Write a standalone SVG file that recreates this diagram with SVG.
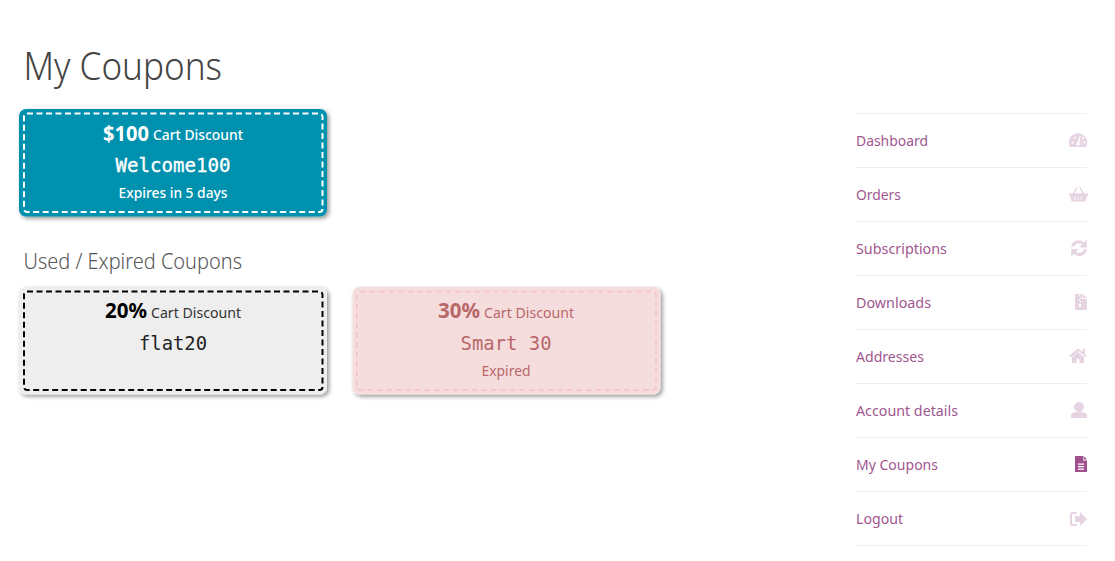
<svg xmlns="http://www.w3.org/2000/svg" width="1115" height="561" viewBox="0 0 1115 561">
<defs>
<filter id="sh" x="-5%" y="-10%" width="112%" height="125%"><feDropShadow dx="2" dy="2" stdDeviation="2" flood-color="#000" flood-opacity="0.42"/></filter>
</defs>
<style>
text{font-family:"Noto Sans","Open Sans","Liberation Sans",sans-serif}
.h{font-weight:300;fill:#444}
.b{font-weight:700;font-size:21px}
.s{font-size:14.5px}
.m{font-family:"DejaVu Sans Mono","Liberation Mono",monospace;font-size:20px}
.e{font-size:14.5px}
.n{font-size:15px;fill:#a0578f}
.l{stroke:#eeeeee;stroke-width:1}
.d{fill:none;stroke-width:2;stroke-dasharray:6 3.5}
.i{fill:#a46497;opacity:.28}
</style>
<rect width="1115" height="561" fill="#fff"/>
<text class="h" x="23.500" y="80" font-size="38" textLength="198.500" lengthAdjust="spacingAndGlyphs">My Coupons</text>
<text class="h" x="23.500" y="269" font-size="21" textLength="218.500" lengthAdjust="spacingAndGlyphs" style="fill:#555">Used / Expired Coupons</text>

<g id="coupon-welcome100">
<rect x="19" y="109" width="308" height="107.500" rx="7" fill="#0091ae" filter="url(#sh)"/>
<rect x="24" y="113.500" width="298.500" height="98.500" rx="3" class="d" stroke="#fff"/>
<text x="103" y="141" class="b" fill="#fff" textLength="46" lengthAdjust="spacingAndGlyphs">$100</text>
<text x="153" y="140" class="s" fill="#fff" font-weight="500" textLength="90" lengthAdjust="spacingAndGlyphs">Cart Discount</text>
<text x="173" y="172" class="m" fill="#fff" stroke="#fff" stroke-width=".35" text-anchor="middle" textLength="115" lengthAdjust="spacingAndGlyphs">Welcome100</text>
<text x="173" y="198" class="e" fill="#fff" text-anchor="middle" font-weight="500" textLength="109" lengthAdjust="spacingAndGlyphs">Expires in 5 days</text>
</g>

<g id="coupon-flat20">
<rect x="19" y="287" width="308" height="107.500" rx="7" fill="#eeeeee" filter="url(#sh)"/>
<rect x="24" y="291.500" width="298.500" height="98.500" rx="3" class="d" stroke="#000"/>
<text x="105" y="318" class="b" fill="#000" textLength="42" lengthAdjust="spacingAndGlyphs">20%</text>
<text x="151" y="318" class="s" fill="#333" textLength="90" lengthAdjust="spacingAndGlyphs">Cart Discount</text>
<text x="173" y="350" class="m" fill="#222" text-anchor="middle" textLength="68" lengthAdjust="spacingAndGlyphs">flat20</text>
</g>

<g id="coupon-smart30">
<rect x="352.500" y="287" width="308" height="107.500" rx="7" fill="#f6dddd" filter="url(#sh)"/>
<rect x="357" y="291.500" width="299" height="98.500" rx="3" class="d" stroke="#f5c8cb"/>
<text x="438" y="318" class="b" fill="#b9686a" textLength="42" lengthAdjust="spacingAndGlyphs">30%</text>
<text x="484" y="318" class="s" fill="#b9686a" textLength="90" lengthAdjust="spacingAndGlyphs">Cart Discount</text>
<text x="506" y="350" class="m" fill="#b9686a" text-anchor="middle" textLength="91" lengthAdjust="spacingAndGlyphs">Smart 30</text>
<text x="506" y="376" class="e" fill="#b9686a" text-anchor="middle" textLength="49" lengthAdjust="spacingAndGlyphs">Expired</text>
</g>

<g id="nav-lines">
<path class="l" d="M856 113.500H1087M856 167.500H1087M856 221.500H1087M856 275.500H1087M856 329.500H1087M856 383.500H1087M856 437.500H1087M856 491.500H1087M856 545.500H1087"/>
</g>
<g id="nav-dashboard"><text class="n" x="856" y="146" textLength="72" lengthAdjust="spacingAndGlyphs">Dashboard</text>
<path class="i" fill-rule="evenodd" d="M1070 147a9.200 9.200 0 1 1 16 0zM1079.500 136l-1.800 6.500a1.700 1.700 0 1 0 1.500.4l1.500-6.700zM1072.500 141.500a1 1 0 1 0 .1 0zM1075 136.500a1 1 0 1 0 .1 0zM1083 137a1 1 0 1 0 .1 0zM1084.300 141.500a1 1 0 1 0 .1 0z"/></g>
<g id="nav-orders"><text class="n" x="856" y="200" textLength="45" lengthAdjust="spacingAndGlyphs">Orders</text>
<path class="i" fill-rule="evenodd" d="M1069 193.500h4l3.500-6.500 1.200.7-3 5.800h7.600l-3-5.800 1.200-.7 3.500 6.500h4v2h-1l-1.600 6h-13.800l-1.600-6h-1zM1074.400 196.500v3.500h.9v-3.500zM1077.600 196.500v3.500h.9v-3.500zM1080.800 196.500v3.500h.9v-3.500z"/></g>
<g id="nav-subscriptions"><text class="n" x="856" y="254" textLength="91" lengthAdjust="spacingAndGlyphs">Subscriptions</text>
<path class="i" d="M1071 246.500a7.800 7.800 0 0 1 13-4l2.800-2.500v7.500h-7.500l2.700-2.800a5 5 0 0 0-8 1.800zM1087 249a7.800 7.800 0 0 1-13 5l-2.800 2.500V249h7.500l-2.700 2.800a5 5 0 0 0 8-2.800z"/></g>
<g id="nav-downloads"><text class="n" x="856" y="308" textLength="75" lengthAdjust="spacingAndGlyphs">Downloads</text>
<path class="i" fill-rule="evenodd" d="M1075 294h7.500v5h4.500v11h-12zM1083 294l4 4h-4zM1079 295v1.500h1v-1.500zM1080 297v1.500h1v-1.500zM1079 299v1.500h1v-1.500zM1080 301v1.500h1v-1.500zM1079 304v3h2v-3z"/></g>
<g id="nav-addresses"><text class="n" x="856" y="362" textLength="68" lengthAdjust="spacingAndGlyphs">Addresses</text>
<path class="i" fill-rule="evenodd" d="M1069 356l9-7.500 4.500 3.700V349h2.500v5.400l2 1.600-1 1.200-7.500-6.300-7.500 6.300zM1072 357l6-5 6 5v6h-4.500v-4h-3v4H1072z"/></g>
<g id="nav-account"><text class="n" x="856" y="416" textLength="102" lengthAdjust="spacingAndGlyphs">Account details</text>
<path class="i" d="M1079 402a5 5 0 1 1-.1 0zM1071 418v-2.500c0-2.500 3-3.500 8-3.500s8 1 8 3.500v2.500z"/></g>
<g id="nav-coupons"><text class="n" x="856" y="470" textLength="82" lengthAdjust="spacingAndGlyphs">My Coupons</text>
<path fill="#a0508f" fill-rule="evenodd" d="M1075 456h8v4.500h4V472h-12zM1083.500 456l3.500 3.600h-3.500zM1078 463.500v1.300h6v-1.300zM1078 466v1.300h6V466zM1078 468.500v1.300h6v-1.300z"/></g>
<g id="nav-logout"><text class="n" x="856" y="524" textLength="47" lengthAdjust="spacingAndGlyphs">Logout</text>
<path class="i" d="M1072.500 512h4v2h-3.500a1 1 0 0 0-1 1v8a1 1 0 0 0 1 1h3.500v2h-4a2.500 2.500 0 0 1-2.500-2.500v-9a2.500 2.500 0 0 1 2.500-2.500zM1075 516h5v-4l7 7-7 7v-4h-5z"/></g>
</svg>
